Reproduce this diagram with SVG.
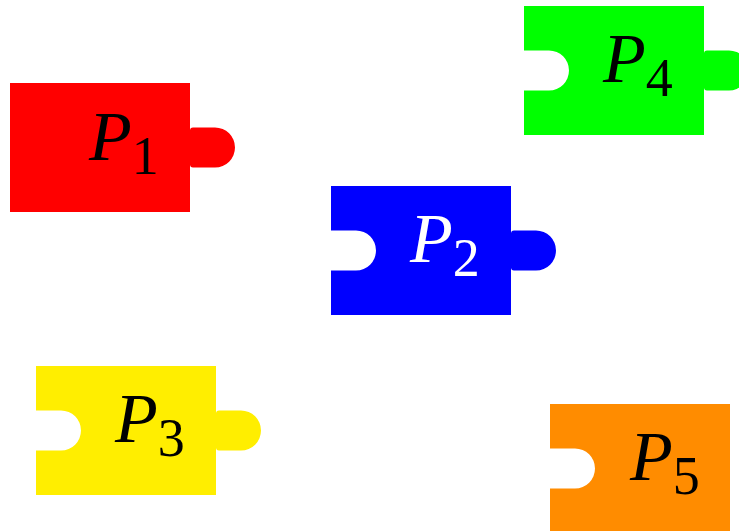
<svg xmlns="http://www.w3.org/2000/svg" xmlns:xlink="http://www.w3.org/1999/xlink" width="739" height="531" viewBox="0 0 739 531">
<style>
.lbl{font-family:"Liberation Serif","DejaVu Serif",serif;font-size:70px;font-style:italic;fill:#000}
.sub{font-style:normal;font-size:54px}
.w{fill:#fff}
</style>
<defs>
<path id="piece" d="M0,0 H180 V47.5 A3,3 0 0 1 183,44.5 H205 A20,20 0 0 1 205,84.5 H183 A3,3 0 0 1 180,81.5 V129 H0 V84.5 H25 A20,20 0 0 0 25,44.5 H0 Z"/>
<path id="piece-plain" d="M0,0 H180 V47.5 A3,3 0 0 1 183,44.5 H205 A20,20 0 0 1 205,84.5 H183 A3,3 0 0 1 180,81.5 V129 H0 Z"/>
<path id="piece-notab" d="M0,0 H180 V129 H0 V84.5 H25 A20,20 0 0 0 25,44.5 H0 Z"/>
</defs>
<rect width="739" height="531" fill="#fff"/>
<g id="P1" transform="translate(10,83)">
<use xlink:href="#piece-plain" fill="#ff0000"/>
<text class="lbl" x="79" y="77">P<tspan class="sub" dy="14">1</tspan></text>
</g>
<g id="P2" transform="translate(331,186)">
<use xlink:href="#piece" fill="#0000ff"/>
<text class="lbl w" x="79" y="76">P<tspan class="sub" dy="14">2</tspan></text>
</g>
<g id="P3" transform="translate(36,366)">
<use xlink:href="#piece" fill="#ffee00"/>
<text class="lbl" x="79" y="76">P<tspan class="sub" dy="14">3</tspan></text>
</g>
<g id="P4" transform="translate(524,6)">
<use xlink:href="#piece" fill="#00ff00"/>
<text class="lbl" x="79" y="76">P<tspan class="sub" dy="14">4</tspan></text>
</g>
<g id="P5" transform="translate(550,404)">
<use xlink:href="#piece-notab" fill="#ff8c00"/>
<text class="lbl" x="80" y="76">P<tspan class="sub" dy="14">5</tspan></text>
</g>
</svg>
